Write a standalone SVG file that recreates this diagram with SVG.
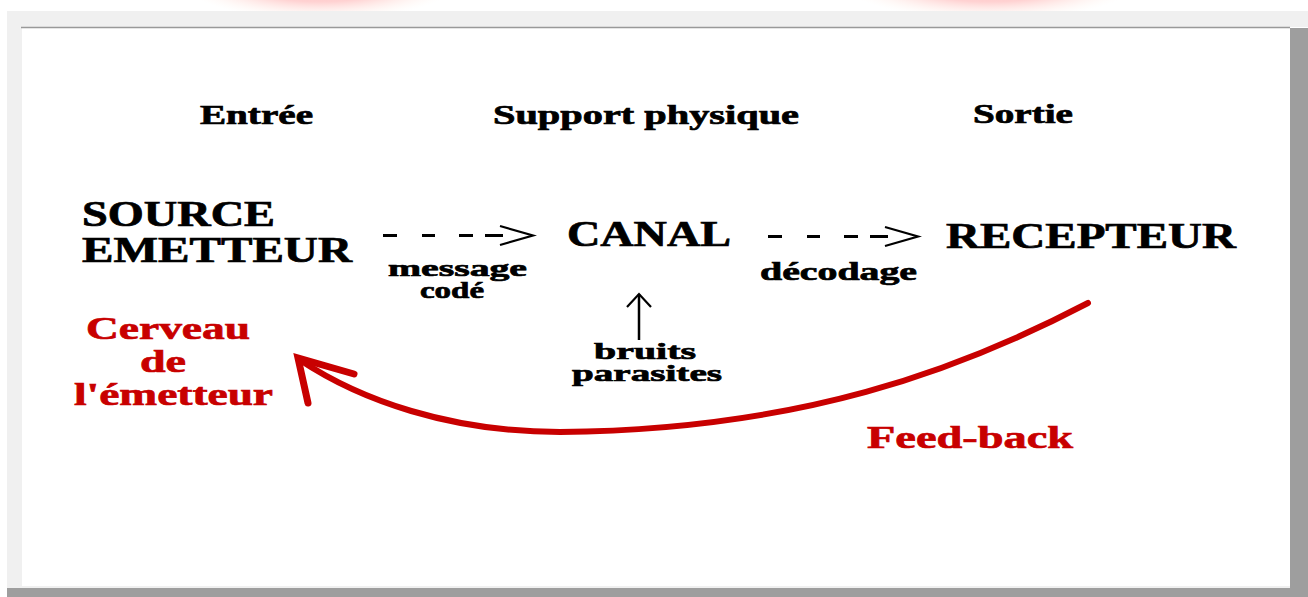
<svg xmlns="http://www.w3.org/2000/svg" width="1308" height="597" viewBox="0 0 1308 597">
<defs>
<radialGradient id="pink" cx="0.5" cy="0.5" r="0.5">
<stop offset="0" stop-color="#ffb0b0"/>
<stop offset="0.55" stop-color="#ffd2d2"/>
<stop offset="1" stop-color="#fff6ee" stop-opacity="0"/>
</radialGradient>
<clipPath id="topclip"><rect x="0" y="0" width="1308" height="11"/></clipPath>
<style>
.t{font-family:"Liberation Serif","Times New Roman",serif;font-weight:bold;fill:#000;stroke:#000;stroke-width:0.7;}
.r{font-family:"Liberation Serif","Times New Roman",serif;font-weight:bold;fill:#c80000;stroke:#c80000;stroke-width:0.7;}
.dash{stroke:#000;stroke-width:3;fill:none;}
.chev{stroke:#000;stroke-width:2.2;fill:none;stroke-linejoin:miter;}
.fb{stroke:#c80000;fill:none;stroke-linecap:round;}
</style>
</defs>
<rect x="0" y="0" width="1308" height="597" fill="#fff"/>
<g clip-path="url(#topclip)">
<ellipse cx="320" cy="-20" rx="140" ry="40" fill="url(#pink)"/>
<ellipse cx="990" cy="-20" rx="150" ry="40" fill="url(#pink)"/>
</g>
<rect x="7" y="11" width="1301" height="16" fill="#f0f0f0"/>
<rect x="7" y="27" width="15" height="561" fill="#f0f0f0"/>
<rect x="22" y="28" width="1268" height="558" fill="#fff"/>
<rect x="22" y="586" width="1268" height="2" fill="#f0f0f0"/>
<line x1="21" y1="27.5" x2="1290" y2="27.5" stroke="#999" stroke-width="1.5"/>
<rect x="1290" y="28" width="18" height="569" fill="#9e9e9e"/>
<rect x="7" y="588" width="1301" height="9" fill="#9e9e9e"/>

<g id="headers">
<text class="t" x="200" y="124" font-size="27" textLength="113" lengthAdjust="spacingAndGlyphs">Entrée</text>
<text class="t" x="493" y="124" font-size="27" textLength="306" lengthAdjust="spacingAndGlyphs">Support physique</text>
<text class="t" x="973" y="123" font-size="27" textLength="100" lengthAdjust="spacingAndGlyphs">Sortie</text>
</g>
<g id="source">
<text class="t" x="82" y="226" font-size="35" textLength="193" lengthAdjust="spacingAndGlyphs">SOURCE</text>
<text class="t" x="82" y="262" font-size="35" textLength="270" lengthAdjust="spacingAndGlyphs">EMETTEUR</text>
</g>
<g id="canal">
<text class="t" x="567" y="246" font-size="36" textLength="164" lengthAdjust="spacingAndGlyphs">CANAL</text>
</g>
<g id="recepteur">
<text class="t" x="946" y="248" font-size="36" textLength="290" lengthAdjust="spacingAndGlyphs">RECEPTEUR</text>
</g>
<g id="cerveau">
<text class="r" x="86" y="339" font-size="32" textLength="164" lengthAdjust="spacingAndGlyphs">Cerveau</text>
<text class="r" x="140" y="372" font-size="32" textLength="46" lengthAdjust="spacingAndGlyphs">de</text>
<text class="r" x="74" y="405" font-size="32" textLength="199" lengthAdjust="spacingAndGlyphs">l'émetteur</text>
</g>
<g id="labels">
<text class="t" x="388" y="276" font-size="24" textLength="139" lengthAdjust="spacingAndGlyphs">message</text>
<text class="t" x="420" y="298" font-size="24" textLength="64" lengthAdjust="spacingAndGlyphs">codé</text>
<text class="t" x="760" y="280" font-size="26" textLength="157" lengthAdjust="spacingAndGlyphs">décodage</text>
<text class="t" x="594" y="359" font-size="24" textLength="102" lengthAdjust="spacingAndGlyphs">bruits</text>
<text class="t" x="572" y="381" font-size="24" textLength="150" lengthAdjust="spacingAndGlyphs">parasites</text>
<text class="r" x="867" y="448" font-size="32" textLength="206" lengthAdjust="spacingAndGlyphs">Feed-back</text>
</g>

<g id="connectors">
<g id="arrow-source-canal">
<path class="dash" d="M383,235.5H397M422,235.5H435M459,235.5H473M485,235.5H503"/>
<polyline class="chev" points="500,226 533,235.5 500,245"/>
</g>
<g id="arrow-canal-recepteur">
<path class="dash" d="M768,236.5H782M807,236.5H820M844,236.5H858M870,236.5H888"/>
<polyline class="chev" points="885,227 918,236.5 885,246"/>
</g>
<g id="arrow-bruits">
<line x1="639" y1="294" x2="639" y2="340" stroke="#000" stroke-width="2.5"/>
<polyline class="chev" points="627,307 639,294 651,307"/>
</g>
<g id="feedback">
<path class="fb" stroke-width="6" d="M1088,303 C960,370 800,430 560,432 C450,432 360,400 300,360"/>
<path class="fb" stroke-width="7" d="M308,403 L298,358 L354,374"/>
</g>
</g>
</svg>
